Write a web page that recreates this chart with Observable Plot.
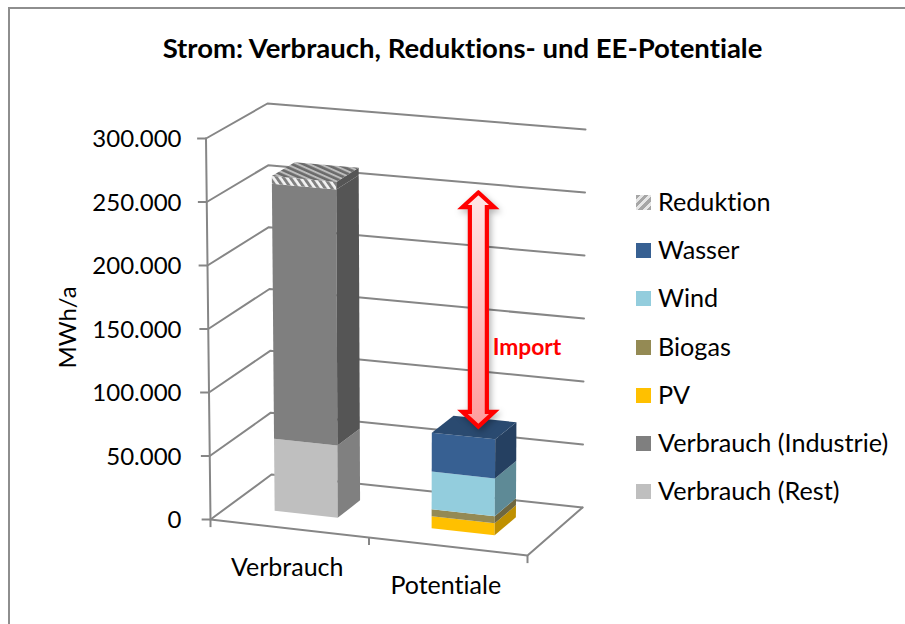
<!DOCTYPE html>
<html><head><meta charset="utf-8">
<script src="https://cdn.jsdelivr.net/npm/d3@7"></script>
<script src="https://cdn.jsdelivr.net/npm/@observablehq/plot@0.6"></script>
<style>
html,body{margin:0;padding:0;background:#fff;}
#wrap{position:relative;width:905px;height:624px;overflow:hidden;font-family:Lato,"Open Sans",sans-serif;color:#000;font-variant-ligatures:none;}
#frame{position:absolute;left:8px;top:7px;width:1000px;height:700px;border:2px solid #8e8e8e;}
#title{position:absolute;left:0;top:32px;width:925px;text-align:center;font-weight:700;font-size:27.5px;line-height:32px;}
.lg{position:absolute;left:658px;font-size:25.2px;line-height:30px;white-space:nowrap;}
.sw{position:absolute;left:636px;width:15px;height:15px;}
svg{position:absolute;left:0;top:0;font-variant-ligatures:none;}
</style></head><body>
<div id="wrap"><div id="frame"></div><div id="title">Strom: Verbrauch, Reduktions- und EE-Potentiale</div></div>
<script>
// Data
const categories = ["Verbrauch", "Potentiale"];
const verbrauchSeries = ["Verbrauch (Rest)", "Verbrauch (Industrie)", "Reduktion"];
const verbrauchValues = [57000, 202000, 6000];
const potentialSeries = ["PV", "Biogas", "Wind", "Wasser"];
const potentialValues = [9400, 5600, 29500, 30500];
const legendOrder = ["Reduktion", "Wasser", "Wind", "Biogas", "PV", "Verbrauch (Industrie)", "Verbrauch (Rest)"];
const yTicks = [0, 50000, 100000, 150000, 200000, 250000, 300000];
const arrowFrom = 73200, arrowTo = 257500, importLabelValue = 135400;
const colours = {
  "Verbrauch (Rest)": ["#BFBFBF", "#808080", "#9a9a9a"],
  "Verbrauch (Industrie)": ["#7F7F7F", "#555555", "#666666"],
  "Reduktion": ["url(#hatchFront)", "#555555", "url(#hatchTop)"],
  "PV": ["#FFC000", "#BF9000", "#cc9a00"],
  "Biogas": ["#948A54", "#6F673F", "#77703f"],
  "Wind": ["#93CDDD", "#5E8A96", "#74a0ad"],
  "Wasser": ["#376092", "#254061", "#2A4A70"]
};

// Oblique 3D box: u along the categories, w into the depth, v value share; result in scale units
const C = {
  "000":[0,0], "100":[1,-28346], "010":[.1924,35433], "110":[1.1735,9449],
  "001":[-.0142,300000], "101":[1.0126,277165], "011":[.1798,327559], "111":[1.183,307087]
};
function P(u, w, val) {
  const v = val / 300000, r = [0, 0];
  for (const a of [0,1]) for (const b of [0,1]) for (const c of [0,1]) {
    const k = (a?u:1-u)*(b?w:1-w)*(c?v:1-v), p = C[""+a+b+c];
    r[0] += k*p[0]; r[1] += k*p[1];
  }
  return r;
}
const barHalfWidth = .1, w0 = .305, w1 = .685;
const faces = [];
function addFace(id, color, pts) { pts.forEach(([x,y]) => faces.push({id, color, x, y})); }
function addStack(centre, names, values) {
  const u0 = centre - barHalfWidth, u1 = centre + barHalfWidth;
  let base = 0;
  names.forEach((n, i) => {
    const top = base + values[i], [f, s, t] = colours[n];
    addFace(n+"f", f, [P(u0,w0,base),P(u1,w0,base),P(u1,w0,top),P(u0,w0,top)]);
    addFace(n+"s", s, [P(u1,w0,base),P(u1,w1,base),P(u1,w1,top),P(u1,w0,top)]);
    if (i === names.length-1) addFace(n+"t", t, [P(u0,w0,top),P(u1,w0,top),P(u1,w1,top),P(u0,w1,top)]);
    base = top;
  });
}
addStack(.2445, verbrauchSeries, verbrauchValues);
addStack(.7425, potentialSeries, potentialValues);

const grid = yTicks.flatMap(v => [[0,0],[0,1],[1,1]].map(([u,w]) => { const [x,y]=P(u,w,v); return {v,x,y}; }));
const floorEdge = [[0,0],[1,0],[1,1]].map(([u,w]) => { const [x,y]=P(u,w,0); return {x,y}; });
const axisLine = [0,300000].map(v => { const [x,y]=P(0,0,v); return {x,y}; });
const leftTicks = yTicks.map(v => { const [x,y]=P(0,0,v); return {x,y,x2:x-.028}; });
const catTicks = [0,.5,1].map(u => { const [x,y]=P(u,0,0); return {x,y,y2:y-6000}; });
const catLabels = categories.map((c,i) => { const [x,y]=P(.25+.5*i,0,0); return {c,x,y}; });

// Double arrow spanning the gap between consumption and potentials
const ax = .845, hw = .05, sw = .0268, hl = 11500;
const arrow = [[0,arrowTo],[hw,arrowTo-hl],[sw,arrowTo-hl],[sw,arrowFrom+hl],[hw,arrowFrom+hl],[0,arrowFrom],
  [-hw,arrowFrom+hl],[-sw,arrowFrom+hl],[-sw,arrowTo-hl],[-hw,arrowTo-hl],[0,arrowTo]].map(([d,y]) => ({x:ax+d,y}));

const deNum = d3.formatLocale({decimal:",",thousands:".",grouping:[3],currency:["","€"]}).format(",d");

const chart = Plot.plot({
  width: 905, height: 624, margin: 0,
  style: {fontFamily: "Lato, 'Open Sans', sans-serif", background: "transparent", color: "#000", overflow: "visible"},
  x: {domain: [0,1], range: [210,527], axis: null},
  y: {domain: [0,300000], range: [519,138]},
  color: {type: "identity"},
  marks: [
    Plot.line(grid, {x:"x", y:"y", z:"v", stroke:"#868686", strokeWidth:2}),
    Plot.line(floorEdge, {x:"x", y:"y", stroke:"#868686", strokeWidth:2}),
    Plot.line(axisLine, {x:"x", y:"y", stroke:"#868686", strokeWidth:2}),
    Plot.link(leftTicks, {x1:"x", y1:"y", x2:"x2", y2:"y", stroke:"#868686", strokeWidth:2}),
    Plot.link(catTicks, {x1:"x", y1:"y", x2:"x", y2:"y2", stroke:"#868686", strokeWidth:2}),
    Plot.line(faces, {x:"x", y:"y", z:"id", fill:"color", stroke:null}),
    Plot.line(arrow, {x:"x", y:"y", fill:"url(#arrowFill)", stroke:"#ff0000", strokeWidth:4.2, strokeLinejoin:"miter", strokeMiterlimit:8, imageFilter:"drop-shadow(2px 3px 3px rgba(0,0,0,.3))"}),
    Plot.axisY({anchor:"left", ticks:yTicks, tickSize:0, tickPadding:0, dx:181, dy:1, fontSize:24, tickFormat:deNum, label:null}),
    Plot.text(["MWh/a"], {frameAnchor:"left", textAnchor:"middle", rotate:-90, dx:68, dy:15, fontSize:24, fill:"#000"}),
    Plot.text(catLabels, {x:"x", y:"y", text:"c", dx:-2.5, dy:40, fontSize:25, fill:"#000"}),
    Plot.text(["Import"], {x:.89, y:()=>importLabelValue, textAnchor:"start", fontWeight:700, fontSize:22.8, fill:"#ff0000"})
  ]
});
const ns = "http://www.w3.org/2000/svg";
const defs = document.createElementNS(ns,"defs");
defs.innerHTML = `
<pattern id="hatchFront" width="5.6" height="6" patternUnits="userSpaceOnUse" patternTransform="rotate(-35)">
  <rect width="5.6" height="6" fill="#f2f2f2"/><rect width="2.9" height="6" fill="#808080"/></pattern>
<pattern id="hatchTop" width="6" height="4.6" patternUnits="userSpaceOnUse" patternTransform="rotate(24)">
  <rect width="6" height="4.6" fill="#6a6a6a"/><rect width="6" height="2" fill="#bdbdbd"/></pattern>
<linearGradient id="arrowFill" x1="0" y1="0" x2="0" y2="1">
  <stop offset="0" stop-color="#ffe6e6"/><stop offset=".55" stop-color="#ffbcbc"/><stop offset="1" stop-color="#ff9c9c"/></linearGradient>`;
chart.insertBefore(defs, chart.firstChild);
const wrap = document.getElementById("wrap");
wrap.appendChild(chart);

legendOrder.forEach((name,i) => {
  const y = 202.5 + i*48.17;
  const sw = document.createElement("div"); sw.className = "sw"; sw.style.top = (y-7.5)+"px";
  sw.style.background = name === "Reduktion"
    ? "repeating-linear-gradient(135deg,#a6a6a6 0 3px,#e6e6e6 3px 6px)"
    : colours[name][0];
  wrap.appendChild(sw);
  const t = document.createElement("div"); t.className = "lg"; t.style.top = (y-16.5)+"px"; t.textContent = name;
  wrap.appendChild(t);
});
</script></body></html>
